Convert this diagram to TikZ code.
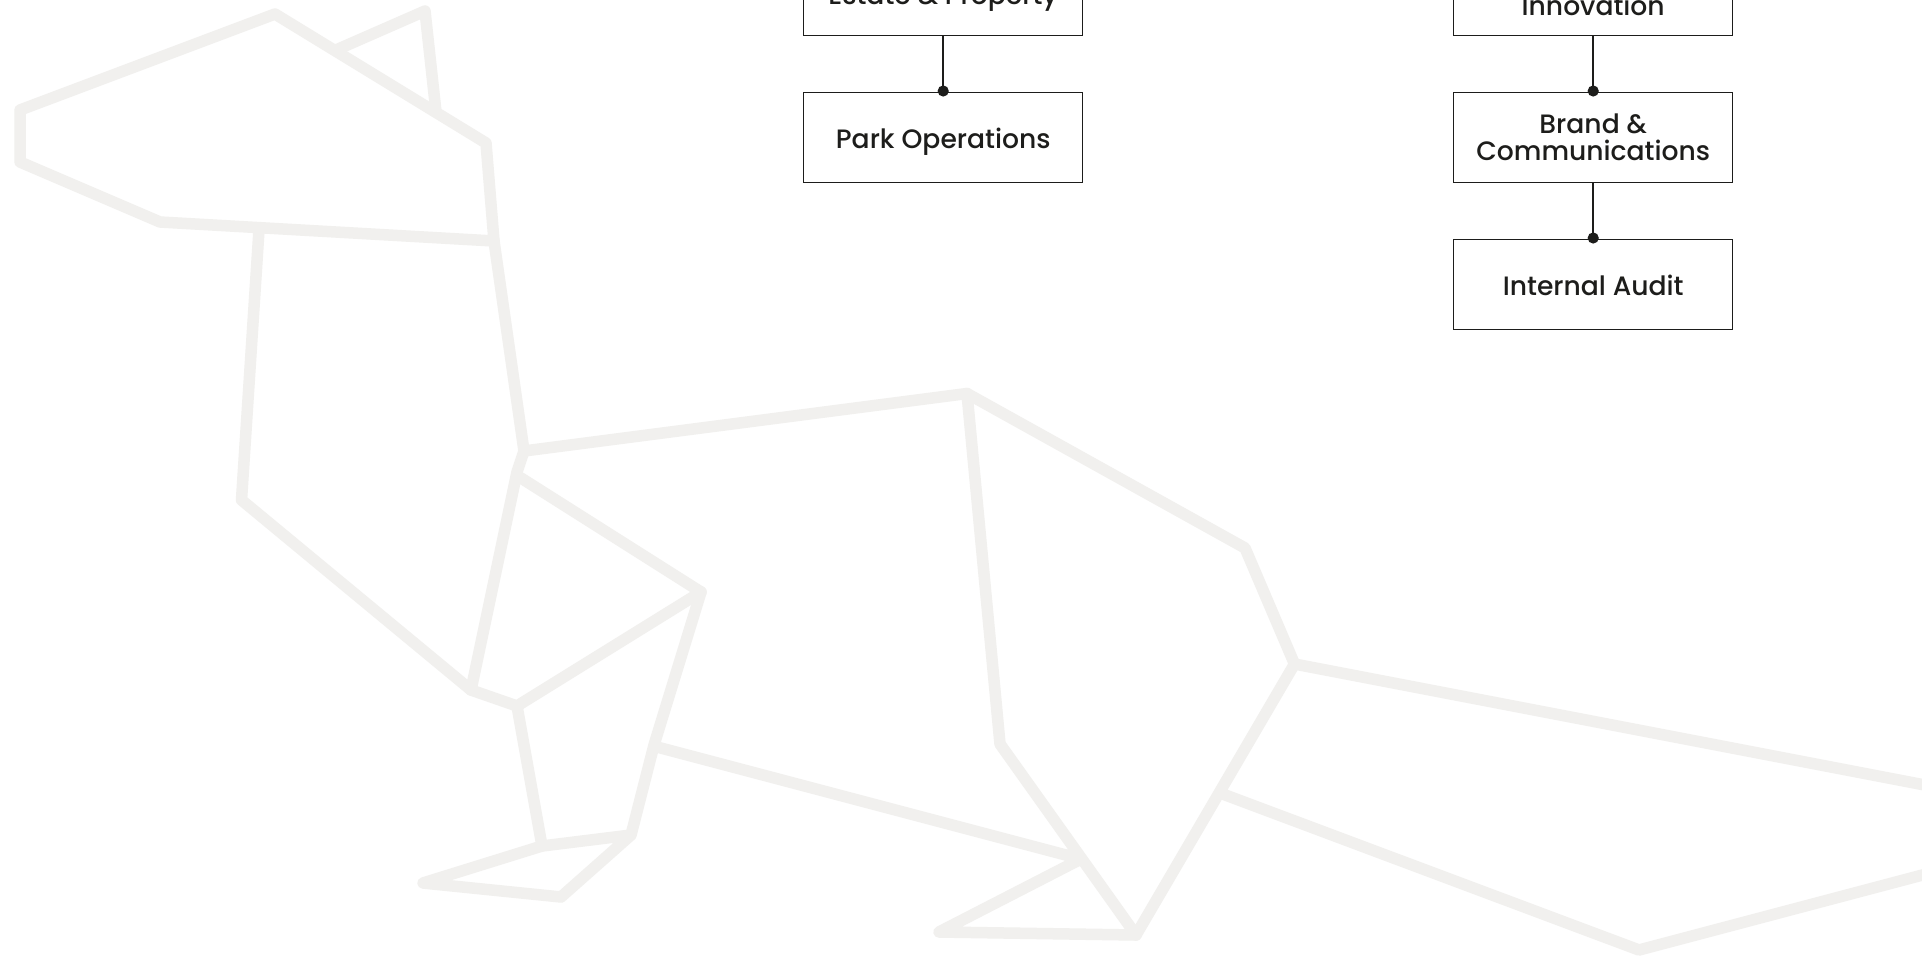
\documentclass[tikz,border=0pt]{standalone}
\usepackage{fontspec}
\setmainfont{Poppins}[UprightFont=* Medium]
\usetikzlibrary{arrows.meta}
\definecolor{foldgray}{HTML}{F1F0EE}
\definecolor{inkdark}{HTML}{1D1D1B}
\newcommand{\lowtext}[2]{\raisebox{-#1pt}[0pt][0pt]{#2}}
\tikzset{
  fold/.style={draw=foldgray,line width=11.5pt,line join=round,line cap=round},
  orgbox/.style={draw=inkdark,line width=1pt,fill=white,minimum width=278.5pt,minimum height=90pt,inner sep=0pt,align=center,text=inkdark,font=\fontsize{26.6}{26.6}\selectfont},
  orglink/.style={draw=inkdark,line width=2.4pt,shorten >=-5pt,-{Circle[length=11pt,width=11pt]}}
}
\begin{document}
\begin{tikzpicture}[x=1pt,y=-1pt]
\useasboundingbox (0,0) rectangle (1922,956);
\fill[white] (0,0) rectangle (1922,956);
\clip (0,0) rectangle (1922,956);
% head
\draw[fold] (20,110) -- (275,14) -- (486,143) -- (494,241) -- (160,222) -- (20,162) -- cycle;
\draw[fold] (336,50) -- (425,11) -- (436,112);
% neck and chest
\draw[fold] (259,230) -- (241.5,500) -- (471,690) -- (517,706) -- (701,592) -- (521,478);
\draw[fold] (494,241) -- (524,451) -- (517,472) -- (471,690);
% front legs
\draw[fold] (701,592) -- (654,745) -- (631,835) -- (561,897) -- (423,883) -- (542,846) -- (631,835);
\draw[fold] (517,706) -- (542,846);
% back
\draw[fold] (524,451) -- (967,393.5) -- (1245,548) -- (1294.5,664) -- (1930,786);
\draw[fold] (967,393.5) -- (1000,744) -- (1136,935) -- (939,932) -- (1081,859) -- (657,747);
\draw[fold] (1294.5,664) -- (1136,935);
\draw[fold] (1220,793) -- (1639,950) -- (1930,873);
% organisation boxes
\node[orgbox] (estate) at (943.2,-10) {\lowtext{14}{Estate \& Property}};
\node[orgbox] (park) at (943.2,137) {\lowtext{11}{Park Operations}};
\node[orgbox] (innov) at (1593.2,-10) {\lowtext{25}{Innovation}};
\node[orgbox] (brand) at (1593.2,137) {Brand \&\\Communications};
\node[orgbox] (audit) at (1593.2,284) {\lowtext{11}{Internal Audit}};
\draw[orglink] (estate.south) -- (park.north);
\draw[orglink] (innov.south) -- (brand.north);
\draw[orglink] (brand.south) -- (audit.north);
\end{tikzpicture}
\end{document}
